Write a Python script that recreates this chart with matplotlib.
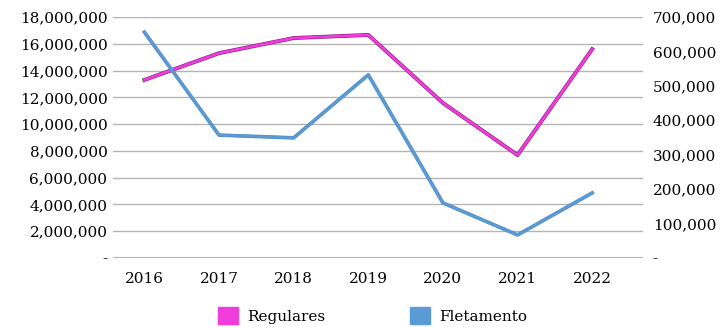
import matplotlib
matplotlib.use("Agg")
import matplotlib.pyplot as plt
import matplotlib.patheffects as pe
from matplotlib.patches import Patch

years = ["2016", "2017", "2018", "2019", "2020", "2021", "2022"]
regulares = [13300000, 15300000, 16430000, 16660000, 11580000, 7690000, 15600000]
fletamento = [656000, 357000, 349000, 532000, 160000, 67000, 189000]

left_ticks = [0, 2000000, 4000000, 6000000, 8000000, 10000000, 12000000,
              14000000, 16000000, 18000000]
right_ticks = [0, 100000, 200000, 300000, 400000, 500000, 600000, 700000]

pink = "#F03CDC"
blue = "#5B9BD5"
font = "DejaVu Serif"
fs = 11


def fmt(v):
    return "-" if v == 0 else f"{v:,.0f}"


fig = plt.figure(figsize=(7.2, 3.27), dpi=100)
ax = fig.add_axes([0.157, 0.211, 0.736, 0.737])
ax2 = ax.twinx()

x = list(range(len(years)))
ax.plot(x, regulares, color=pink, lw=2.0, zorder=3,
        path_effects=[pe.Stroke(linewidth=2.8, foreground="#7A1F70"), pe.Normal()])
ax2.plot(x, fletamento, color=blue, lw=2.0, zorder=3,
         path_effects=[pe.Stroke(linewidth=2.6, foreground="#4A85BE"), pe.Normal()])

ax.set_ylim(0, 18000000)
ax2.set_ylim(0, 700000)
ax.set_xlim(-0.42, 6.68)

ax.set_yticks(left_ticks)
ax.set_yticklabels([fmt(v) for v in left_ticks], family=font, fontsize=fs)
ax2.set_yticks(right_ticks)
ax2.set_yticklabels([fmt(v) for v in right_ticks], family=font, fontsize=fs)
ax.set_xticks(x)
ax.set_xticklabels(years, family=font, fontsize=fs)

ax.grid(axis="y", color="#B4B4B4", lw=1)
ax.set_axisbelow(True)
for a in (ax, ax2):
    for s in a.spines.values():
        s.set_visible(False)
    a.tick_params(length=0)
ax.tick_params(axis="x", pad=10)
ax.tick_params(axis="y", pad=4)
ax2.tick_params(axis="y", pad=7)
ax.axhline(0, color="#B4B4B4", lw=2.2, zorder=2)

handles = [Patch(color=pink, label="Regulares"), Patch(color=blue, label="Fletamento")]
fig.legend(handles=handles, loc="center", bbox_to_anchor=(0.517, 0.035), ncol=2,
           frameon=False, prop={"family": font, "size": fs},
           handlelength=1.3, handleheight=1.3, columnspacing=5.55, handletextpad=0.6)

fig.savefig("out.png", dpi=100)
